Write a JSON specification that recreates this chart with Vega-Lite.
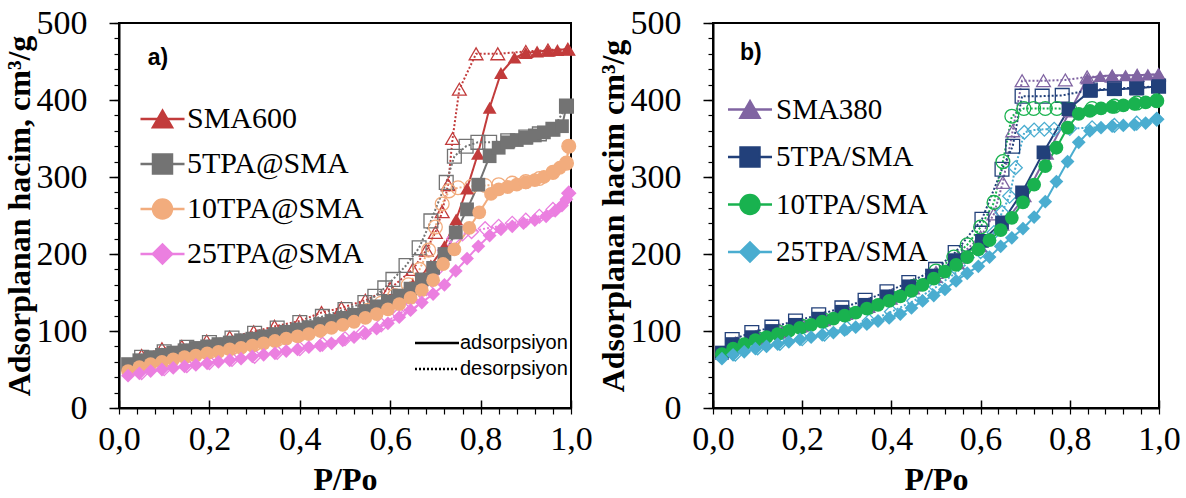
{
"$schema": "https://vega.github.io/schema/vega-lite/v6.json",
"background": "white",
"padding": {"left": 2, "top": 5, "right": 5, "bottom": 0},
"spacing": 142,
"bounds": "flush",
"datasets": {
"a": [
{"s":"SMA600","t":"a","p":0.02,"v":55},{"s":"SMA600","t":"a","p":0.05,"v":62},{"s":"SMA600","t":"a","p":0.1,"v":70},{"s":"SMA600","t":"a","p":0.15,"v":76},{"s":"SMA600","t":"a","p":0.2,"v":81},{"s":"SMA600","t":"a","p":0.25,"v":86},{"s":"SMA600","t":"a","p":0.3,"v":91},{"s":"SMA600","t":"a","p":0.35,"v":97},{"s":"SMA600","t":"a","p":0.4,"v":103},{"s":"SMA600","t":"a","p":0.45,"v":110},{"s":"SMA600","t":"a","p":0.5,"v":118},{"s":"SMA600","t":"a","p":0.55,"v":128},{"s":"SMA600","t":"a","p":0.6,"v":141},{"s":"SMA600","t":"a","p":0.65,"v":160},{"s":"SMA600","t":"a","p":0.69,"v":185},{"s":"SMA600","t":"a","p":0.72,"v":210},{"s":"SMA600","t":"a","p":0.746,"v":245},{"s":"SMA600","t":"a","p":0.77,"v":285},{"s":"SMA600","t":"a","p":0.794,"v":330},{"s":"SMA600","t":"a","p":0.82,"v":390},{"s":"SMA600","t":"a","p":0.845,"v":435},{"s":"SMA600","t":"a","p":0.875,"v":455},{"s":"SMA600","t":"a","p":0.9,"v":461},{"s":"SMA600","t":"a","p":0.925,"v":463},{"s":"SMA600","t":"a","p":0.949,"v":464},{"s":"SMA600","t":"a","p":0.97,"v":465},{"s":"SMA600","t":"a","p":0.993,"v":466},
{"s":"SMA600","t":"d","p":0.993,"v":466},{"s":"SMA600","t":"d","p":0.949,"v":465},{"s":"SMA600","t":"d","p":0.9,"v":463},{"s":"SMA600","t":"d","p":0.838,"v":460},{"s":"SMA600","t":"d","p":0.79,"v":460},{"s":"SMA600","t":"d","p":0.753,"v":414},{"s":"SMA600","t":"d","p":0.738,"v":350},{"s":"SMA600","t":"d","p":0.728,"v":290},{"s":"SMA600","t":"d","p":0.715,"v":255},{"s":"SMA600","t":"d","p":0.7,"v":228},{"s":"SMA600","t":"d","p":0.68,"v":205},{"s":"SMA600","t":"d","p":0.65,"v":180},{"s":"SMA600","t":"d","p":0.6,"v":155},{"s":"SMA600","t":"d","p":0.545,"v":140},{"s":"SMA600","t":"d","p":0.492,"v":130},{"s":"SMA600","t":"d","p":0.448,"v":124},{"s":"SMA600","t":"d","p":0.4,"v":113},{"s":"SMA600","t":"d","p":0.344,"v":106},{"s":"SMA600","t":"d","p":0.298,"v":99},{"s":"SMA600","t":"d","p":0.245,"v":92},{"s":"SMA600","t":"d","p":0.194,"v":87},{"s":"SMA600","t":"d","p":0.139,"v":80},{"s":"SMA600","t":"d","p":0.095,"v":77},{"s":"SMA600","t":"d","p":0.05,"v":68},
{"s":"5TPA@SMA","t":"a","p":0.02,"v":57},{"s":"5TPA@SMA","t":"a","p":0.045,"v":62},{"s":"5TPA@SMA","t":"a","p":0.07,"v":66},{"s":"5TPA@SMA","t":"a","p":0.095,"v":69},{"s":"5TPA@SMA","t":"a","p":0.12,"v":72},{"s":"5TPA@SMA","t":"a","p":0.145,"v":75},{"s":"5TPA@SMA","t":"a","p":0.17,"v":78},{"s":"5TPA@SMA","t":"a","p":0.195,"v":80},{"s":"5TPA@SMA","t":"a","p":0.22,"v":83},{"s":"5TPA@SMA","t":"a","p":0.245,"v":85},{"s":"5TPA@SMA","t":"a","p":0.27,"v":88},{"s":"5TPA@SMA","t":"a","p":0.295,"v":90},{"s":"5TPA@SMA","t":"a","p":0.32,"v":93},{"s":"5TPA@SMA","t":"a","p":0.345,"v":96},{"s":"5TPA@SMA","t":"a","p":0.37,"v":99},{"s":"5TPA@SMA","t":"a","p":0.395,"v":102},{"s":"5TPA@SMA","t":"a","p":0.42,"v":105},{"s":"5TPA@SMA","t":"a","p":0.445,"v":109},{"s":"5TPA@SMA","t":"a","p":0.47,"v":113},{"s":"5TPA@SMA","t":"a","p":0.495,"v":117},{"s":"5TPA@SMA","t":"a","p":0.52,"v":121},{"s":"5TPA@SMA","t":"a","p":0.545,"v":126},{"s":"5TPA@SMA","t":"a","p":0.57,"v":132},{"s":"5TPA@SMA","t":"a","p":0.595,"v":138},{"s":"5TPA@SMA","t":"a","p":0.62,"v":146},{"s":"5TPA@SMA","t":"a","p":0.645,"v":155},{"s":"5TPA@SMA","t":"a","p":0.67,"v":167},{"s":"5TPA@SMA","t":"a","p":0.695,"v":182},{"s":"5TPA@SMA","t":"a","p":0.72,"v":200},{"s":"5TPA@SMA","t":"a","p":0.745,"v":228},{"s":"5TPA@SMA","t":"a","p":0.77,"v":258},{"s":"5TPA@SMA","t":"a","p":0.795,"v":290},{"s":"5TPA@SMA","t":"a","p":0.82,"v":327},{"s":"5TPA@SMA","t":"a","p":0.84,"v":338},{"s":"5TPA@SMA","t":"a","p":0.86,"v":345},{"s":"5TPA@SMA","t":"a","p":0.88,"v":348},{"s":"5TPA@SMA","t":"a","p":0.9,"v":351},{"s":"5TPA@SMA","t":"a","p":0.92,"v":354},{"s":"5TPA@SMA","t":"a","p":0.94,"v":358},{"s":"5TPA@SMA","t":"a","p":0.96,"v":362},{"s":"5TPA@SMA","t":"a","p":0.98,"v":366},{"s":"5TPA@SMA","t":"a","p":0.99,"v":392},
{"s":"5TPA@SMA","t":"d","p":0.99,"v":392},{"s":"5TPA@SMA","t":"d","p":0.96,"v":362},{"s":"5TPA@SMA","t":"d","p":0.93,"v":356},{"s":"5TPA@SMA","t":"d","p":0.9,"v":352},{"s":"5TPA@SMA","t":"d","p":0.86,"v":347},{"s":"5TPA@SMA","t":"d","p":0.82,"v":345},{"s":"5TPA@SMA","t":"d","p":0.794,"v":345},{"s":"5TPA@SMA","t":"d","p":0.768,"v":340},{"s":"5TPA@SMA","t":"d","p":0.742,"v":327},{"s":"5TPA@SMA","t":"d","p":0.724,"v":293},{"s":"5TPA@SMA","t":"d","p":0.69,"v":243},{"s":"5TPA@SMA","t":"d","p":0.664,"v":208},{"s":"5TPA@SMA","t":"d","p":0.635,"v":185},{"s":"5TPA@SMA","t":"d","p":0.606,"v":167},{"s":"5TPA@SMA","t":"d","p":0.588,"v":156},{"s":"5TPA@SMA","t":"d","p":0.566,"v":145},{"s":"5TPA@SMA","t":"d","p":0.544,"v":137},{"s":"5TPA@SMA","t":"d","p":0.5,"v":128},{"s":"5TPA@SMA","t":"d","p":0.45,"v":119},{"s":"5TPA@SMA","t":"d","p":0.4,"v":111},{"s":"5TPA@SMA","t":"d","p":0.35,"v":104},{"s":"5TPA@SMA","t":"d","p":0.3,"v":97},{"s":"5TPA@SMA","t":"d","p":0.25,"v":91},{"s":"5TPA@SMA","t":"d","p":0.2,"v":85},{"s":"5TPA@SMA","t":"d","p":0.15,"v":79},{"s":"5TPA@SMA","t":"d","p":0.1,"v":73},{"s":"5TPA@SMA","t":"d","p":0.05,"v":66},
{"s":"10TPA@SMA","t":"a","p":0.02,"v":48},{"s":"10TPA@SMA","t":"a","p":0.045,"v":53},{"s":"10TPA@SMA","t":"a","p":0.07,"v":57},{"s":"10TPA@SMA","t":"a","p":0.095,"v":60},{"s":"10TPA@SMA","t":"a","p":0.12,"v":63},{"s":"10TPA@SMA","t":"a","p":0.145,"v":66},{"s":"10TPA@SMA","t":"a","p":0.17,"v":68},{"s":"10TPA@SMA","t":"a","p":0.195,"v":71},{"s":"10TPA@SMA","t":"a","p":0.22,"v":73},{"s":"10TPA@SMA","t":"a","p":0.245,"v":76},{"s":"10TPA@SMA","t":"a","p":0.27,"v":78},{"s":"10TPA@SMA","t":"a","p":0.295,"v":81},{"s":"10TPA@SMA","t":"a","p":0.32,"v":84},{"s":"10TPA@SMA","t":"a","p":0.345,"v":87},{"s":"10TPA@SMA","t":"a","p":0.37,"v":90},{"s":"10TPA@SMA","t":"a","p":0.395,"v":93},{"s":"10TPA@SMA","t":"a","p":0.42,"v":96},{"s":"10TPA@SMA","t":"a","p":0.445,"v":100},{"s":"10TPA@SMA","t":"a","p":0.47,"v":104},{"s":"10TPA@SMA","t":"a","p":0.495,"v":108},{"s":"10TPA@SMA","t":"a","p":0.52,"v":112},{"s":"10TPA@SMA","t":"a","p":0.545,"v":117},{"s":"10TPA@SMA","t":"a","p":0.57,"v":122},{"s":"10TPA@SMA","t":"a","p":0.595,"v":128},{"s":"10TPA@SMA","t":"a","p":0.62,"v":135},{"s":"10TPA@SMA","t":"a","p":0.645,"v":143},{"s":"10TPA@SMA","t":"a","p":0.67,"v":153},{"s":"10TPA@SMA","t":"a","p":0.695,"v":166},{"s":"10TPA@SMA","t":"a","p":0.717,"v":187},{"s":"10TPA@SMA","t":"a","p":0.742,"v":206},{"s":"10TPA@SMA","t":"a","p":0.775,"v":234},{"s":"10TPA@SMA","t":"a","p":0.797,"v":254},{"s":"10TPA@SMA","t":"a","p":0.823,"v":278},{"s":"10TPA@SMA","t":"a","p":0.84,"v":284},{"s":"10TPA@SMA","t":"a","p":0.86,"v":287},{"s":"10TPA@SMA","t":"a","p":0.88,"v":290},{"s":"10TPA@SMA","t":"a","p":0.9,"v":293},{"s":"10TPA@SMA","t":"a","p":0.92,"v":296},{"s":"10TPA@SMA","t":"a","p":0.94,"v":300},{"s":"10TPA@SMA","t":"a","p":0.96,"v":306},{"s":"10TPA@SMA","t":"a","p":0.975,"v":312},{"s":"10TPA@SMA","t":"a","p":0.99,"v":318},{"s":"10TPA@SMA","t":"a","p":0.995,"v":340},
{"s":"10TPA@SMA","t":"d","p":0.995,"v":340},{"s":"10TPA@SMA","t":"d","p":0.99,"v":318},{"s":"10TPA@SMA","t":"d","p":0.96,"v":306},{"s":"10TPA@SMA","t":"d","p":0.93,"v":298},{"s":"10TPA@SMA","t":"d","p":0.9,"v":294},{"s":"10TPA@SMA","t":"d","p":0.87,"v":292},{"s":"10TPA@SMA","t":"d","p":0.84,"v":290},{"s":"10TPA@SMA","t":"d","p":0.81,"v":289},{"s":"10TPA@SMA","t":"d","p":0.78,"v":288},{"s":"10TPA@SMA","t":"d","p":0.75,"v":286},{"s":"10TPA@SMA","t":"d","p":0.73,"v":282},{"s":"10TPA@SMA","t":"d","p":0.715,"v":265},{"s":"10TPA@SMA","t":"d","p":0.7,"v":235},{"s":"10TPA@SMA","t":"d","p":0.685,"v":205},{"s":"10TPA@SMA","t":"d","p":0.665,"v":180},{"s":"10TPA@SMA","t":"d","p":0.64,"v":160},{"s":"10TPA@SMA","t":"d","p":0.61,"v":146},{"s":"10TPA@SMA","t":"d","p":0.58,"v":136},{"s":"10TPA@SMA","t":"d","p":0.55,"v":127},{"s":"10TPA@SMA","t":"d","p":0.5,"v":113},{"s":"10TPA@SMA","t":"d","p":0.45,"v":104},{"s":"10TPA@SMA","t":"d","p":0.4,"v":96},{"s":"10TPA@SMA","t":"d","p":0.35,"v":89},{"s":"10TPA@SMA","t":"d","p":0.3,"v":83},{"s":"10TPA@SMA","t":"d","p":0.25,"v":78},{"s":"10TPA@SMA","t":"d","p":0.2,"v":73},{"s":"10TPA@SMA","t":"d","p":0.15,"v":68},{"s":"10TPA@SMA","t":"d","p":0.1,"v":62},{"s":"10TPA@SMA","t":"d","p":0.05,"v":55},
{"s":"25TPA@SMA","t":"a","p":0.02,"v":42},{"s":"25TPA@SMA","t":"a","p":0.045,"v":45},{"s":"25TPA@SMA","t":"a","p":0.07,"v":48},{"s":"25TPA@SMA","t":"a","p":0.095,"v":50},{"s":"25TPA@SMA","t":"a","p":0.12,"v":52},{"s":"25TPA@SMA","t":"a","p":0.145,"v":54},{"s":"25TPA@SMA","t":"a","p":0.17,"v":56},{"s":"25TPA@SMA","t":"a","p":0.195,"v":58},{"s":"25TPA@SMA","t":"a","p":0.22,"v":60},{"s":"25TPA@SMA","t":"a","p":0.245,"v":62},{"s":"25TPA@SMA","t":"a","p":0.27,"v":64},{"s":"25TPA@SMA","t":"a","p":0.295,"v":67},{"s":"25TPA@SMA","t":"a","p":0.32,"v":69},{"s":"25TPA@SMA","t":"a","p":0.345,"v":71},{"s":"25TPA@SMA","t":"a","p":0.37,"v":74},{"s":"25TPA@SMA","t":"a","p":0.395,"v":76},{"s":"25TPA@SMA","t":"a","p":0.42,"v":79},{"s":"25TPA@SMA","t":"a","p":0.445,"v":81},{"s":"25TPA@SMA","t":"a","p":0.47,"v":84},{"s":"25TPA@SMA","t":"a","p":0.495,"v":88},{"s":"25TPA@SMA","t":"a","p":0.52,"v":92},{"s":"25TPA@SMA","t":"a","p":0.545,"v":97},{"s":"25TPA@SMA","t":"a","p":0.57,"v":103},{"s":"25TPA@SMA","t":"a","p":0.595,"v":110},{"s":"25TPA@SMA","t":"a","p":0.62,"v":118},{"s":"25TPA@SMA","t":"a","p":0.645,"v":127},{"s":"25TPA@SMA","t":"a","p":0.67,"v":137},{"s":"25TPA@SMA","t":"a","p":0.695,"v":148},{"s":"25TPA@SMA","t":"a","p":0.72,"v":160},{"s":"25TPA@SMA","t":"a","p":0.745,"v":178},{"s":"25TPA@SMA","t":"a","p":0.77,"v":194},{"s":"25TPA@SMA","t":"a","p":0.795,"v":210},{"s":"25TPA@SMA","t":"a","p":0.82,"v":224},{"s":"25TPA@SMA","t":"a","p":0.845,"v":232},{"s":"25TPA@SMA","t":"a","p":0.87,"v":236},{"s":"25TPA@SMA","t":"a","p":0.895,"v":240},{"s":"25TPA@SMA","t":"a","p":0.92,"v":244},{"s":"25TPA@SMA","t":"a","p":0.945,"v":249},{"s":"25TPA@SMA","t":"a","p":0.965,"v":256},{"s":"25TPA@SMA","t":"a","p":0.98,"v":263},{"s":"25TPA@SMA","t":"a","p":0.99,"v":271},{"s":"25TPA@SMA","t":"a","p":0.995,"v":279},
{"s":"25TPA@SMA","t":"d","p":0.995,"v":279},{"s":"25TPA@SMA","t":"d","p":0.96,"v":258},{"s":"25TPA@SMA","t":"d","p":0.93,"v":249},{"s":"25TPA@SMA","t":"d","p":0.9,"v":244},{"s":"25TPA@SMA","t":"d","p":0.87,"v":240},{"s":"25TPA@SMA","t":"d","p":0.84,"v":236},{"s":"25TPA@SMA","t":"d","p":0.81,"v":233},{"s":"25TPA@SMA","t":"d","p":0.78,"v":229},{"s":"25TPA@SMA","t":"d","p":0.76,"v":226},{"s":"25TPA@SMA","t":"d","p":0.74,"v":220},{"s":"25TPA@SMA","t":"d","p":0.72,"v":205},{"s":"25TPA@SMA","t":"d","p":0.7,"v":178},{"s":"25TPA@SMA","t":"d","p":0.68,"v":155},{"s":"25TPA@SMA","t":"d","p":0.65,"v":135},{"s":"25TPA@SMA","t":"d","p":0.62,"v":122},{"s":"25TPA@SMA","t":"d","p":0.58,"v":108},{"s":"25TPA@SMA","t":"d","p":0.54,"v":98},{"s":"25TPA@SMA","t":"d","p":0.5,"v":90},{"s":"25TPA@SMA","t":"d","p":0.45,"v":83},{"s":"25TPA@SMA","t":"d","p":0.4,"v":77},{"s":"25TPA@SMA","t":"d","p":0.35,"v":72},{"s":"25TPA@SMA","t":"d","p":0.3,"v":67},{"s":"25TPA@SMA","t":"d","p":0.25,"v":63},{"s":"25TPA@SMA","t":"d","p":0.2,"v":59},{"s":"25TPA@SMA","t":"d","p":0.15,"v":55},{"s":"25TPA@SMA","t":"d","p":0.1,"v":51},{"s":"25TPA@SMA","t":"d","p":0.05,"v":46}
],
"b": [
{"s":"SMA380","t":"a","p":0.02,"v":70},{"s":"SMA380","t":"a","p":0.05,"v":80},{"s":"SMA380","t":"a","p":0.1,"v":90},{"s":"SMA380","t":"a","p":0.15,"v":98},{"s":"SMA380","t":"a","p":0.2,"v":106},{"s":"SMA380","t":"a","p":0.25,"v":114},{"s":"SMA380","t":"a","p":0.3,"v":122},{"s":"SMA380","t":"a","p":0.35,"v":131},{"s":"SMA380","t":"a","p":0.4,"v":142},{"s":"SMA380","t":"a","p":0.45,"v":155},{"s":"SMA380","t":"a","p":0.5,"v":170},{"s":"SMA380","t":"a","p":0.55,"v":188},{"s":"SMA380","t":"a","p":0.6,"v":210},{"s":"SMA380","t":"a","p":0.65,"v":238},{"s":"SMA380","t":"a","p":0.7,"v":275},{"s":"SMA380","t":"a","p":0.75,"v":330},{"s":"SMA380","t":"a","p":0.8,"v":385},{"s":"SMA380","t":"a","p":0.839,"v":428},{"s":"SMA380","t":"a","p":0.868,"v":431},{"s":"SMA380","t":"a","p":0.895,"v":432},{"s":"SMA380","t":"a","p":0.925,"v":432},{"s":"SMA380","t":"a","p":0.951,"v":432},{"s":"SMA380","t":"a","p":0.975,"v":433},{"s":"SMA380","t":"a","p":0.999,"v":433},
{"s":"SMA380","t":"d","p":0.999,"v":433},{"s":"SMA380","t":"d","p":0.951,"v":432},{"s":"SMA380","t":"d","p":0.895,"v":431},{"s":"SMA380","t":"d","p":0.839,"v":430},{"s":"SMA380","t":"d","p":0.79,"v":426},{"s":"SMA380","t":"d","p":0.741,"v":425},{"s":"SMA380","t":"d","p":0.693,"v":425},{"s":"SMA380","t":"d","p":0.672,"v":360},{"s":"SMA380","t":"d","p":0.65,"v":293},{"s":"SMA380","t":"d","p":0.63,"v":252},{"s":"SMA380","t":"d","p":0.6,"v":222},{"s":"SMA380","t":"d","p":0.55,"v":196},{"s":"SMA380","t":"d","p":0.5,"v":176},{"s":"SMA380","t":"d","p":0.45,"v":160},{"s":"SMA380","t":"d","p":0.4,"v":146},{"s":"SMA380","t":"d","p":0.35,"v":135},{"s":"SMA380","t":"d","p":0.3,"v":125},{"s":"SMA380","t":"d","p":0.25,"v":117},{"s":"SMA380","t":"d","p":0.2,"v":109},{"s":"SMA380","t":"d","p":0.15,"v":101},{"s":"SMA380","t":"d","p":0.1,"v":93},{"s":"SMA380","t":"d","p":0.05,"v":84},
{"s":"5TPA/SMA","t":"a","p":0.02,"v":72},{"s":"5TPA/SMA","t":"a","p":0.043,"v":83},{"s":"5TPA/SMA","t":"a","p":0.087,"v":92},{"s":"5TPA/SMA","t":"a","p":0.132,"v":100},{"s":"5TPA/SMA","t":"a","p":0.185,"v":108},{"s":"5TPA/SMA","t":"a","p":0.237,"v":116},{"s":"5TPA/SMA","t":"a","p":0.289,"v":125},{"s":"5TPA/SMA","t":"a","p":0.341,"v":134},{"s":"5TPA/SMA","t":"a","p":0.39,"v":145},{"s":"5TPA/SMA","t":"a","p":0.439,"v":158},{"s":"5TPA/SMA","t":"a","p":0.491,"v":172},{"s":"5TPA/SMA","t":"a","p":0.543,"v":192},{"s":"5TPA/SMA","t":"a","p":0.603,"v":217},{"s":"5TPA/SMA","t":"a","p":0.648,"v":241},{"s":"5TPA/SMA","t":"a","p":0.693,"v":280},{"s":"5TPA/SMA","t":"a","p":0.741,"v":332},{"s":"5TPA/SMA","t":"a","p":0.797,"v":388},{"s":"5TPA/SMA","t":"a","p":0.846,"v":412},{"s":"5TPA/SMA","t":"a","p":0.9,"v":414},{"s":"5TPA/SMA","t":"a","p":0.95,"v":415},{"s":"5TPA/SMA","t":"a","p":0.999,"v":418},
{"s":"5TPA/SMA","t":"d","p":0.999,"v":418},{"s":"5TPA/SMA","t":"d","p":0.95,"v":416},{"s":"5TPA/SMA","t":"d","p":0.9,"v":415},{"s":"5TPA/SMA","t":"d","p":0.846,"v":413},{"s":"5TPA/SMA","t":"d","p":0.783,"v":406},{"s":"5TPA/SMA","t":"d","p":0.738,"v":405},{"s":"5TPA/SMA","t":"d","p":0.693,"v":405},{"s":"5TPA/SMA","t":"d","p":0.672,"v":340},{"s":"5TPA/SMA","t":"d","p":0.648,"v":310},{"s":"5TPA/SMA","t":"d","p":0.603,"v":245},{"s":"5TPA/SMA","t":"d","p":0.543,"v":202},{"s":"5TPA/SMA","t":"d","p":0.499,"v":180},{"s":"5TPA/SMA","t":"d","p":0.439,"v":163},{"s":"5TPA/SMA","t":"d","p":0.39,"v":151},{"s":"5TPA/SMA","t":"d","p":0.341,"v":140},{"s":"5TPA/SMA","t":"d","p":0.289,"v":130},{"s":"5TPA/SMA","t":"d","p":0.237,"v":121},{"s":"5TPA/SMA","t":"d","p":0.185,"v":113},{"s":"5TPA/SMA","t":"d","p":0.132,"v":105},{"s":"5TPA/SMA","t":"d","p":0.087,"v":98},{"s":"5TPA/SMA","t":"d","p":0.043,"v":89},
{"s":"10TPA/SMA","t":"a","p":0.02,"v":70},{"s":"10TPA/SMA","t":"a","p":0.045,"v":77},{"s":"10TPA/SMA","t":"a","p":0.07,"v":83},{"s":"10TPA/SMA","t":"a","p":0.095,"v":88},{"s":"10TPA/SMA","t":"a","p":0.12,"v":92},{"s":"10TPA/SMA","t":"a","p":0.145,"v":96},{"s":"10TPA/SMA","t":"a","p":0.17,"v":100},{"s":"10TPA/SMA","t":"a","p":0.195,"v":104},{"s":"10TPA/SMA","t":"a","p":0.22,"v":108},{"s":"10TPA/SMA","t":"a","p":0.245,"v":112},{"s":"10TPA/SMA","t":"a","p":0.27,"v":116},{"s":"10TPA/SMA","t":"a","p":0.295,"v":120},{"s":"10TPA/SMA","t":"a","p":0.32,"v":124},{"s":"10TPA/SMA","t":"a","p":0.345,"v":129},{"s":"10TPA/SMA","t":"a","p":0.37,"v":134},{"s":"10TPA/SMA","t":"a","p":0.395,"v":139},{"s":"10TPA/SMA","t":"a","p":0.42,"v":145},{"s":"10TPA/SMA","t":"a","p":0.445,"v":152},{"s":"10TPA/SMA","t":"a","p":0.47,"v":160},{"s":"10TPA/SMA","t":"a","p":0.495,"v":168},{"s":"10TPA/SMA","t":"a","p":0.52,"v":177},{"s":"10TPA/SMA","t":"a","p":0.545,"v":186},{"s":"10TPA/SMA","t":"a","p":0.57,"v":196},{"s":"10TPA/SMA","t":"a","p":0.595,"v":206},{"s":"10TPA/SMA","t":"a","p":0.62,"v":218},{"s":"10TPA/SMA","t":"a","p":0.645,"v":231},{"s":"10TPA/SMA","t":"a","p":0.67,"v":247},{"s":"10TPA/SMA","t":"a","p":0.695,"v":267},{"s":"10TPA/SMA","t":"a","p":0.72,"v":290},{"s":"10TPA/SMA","t":"a","p":0.745,"v":314},{"s":"10TPA/SMA","t":"a","p":0.77,"v":338},{"s":"10TPA/SMA","t":"a","p":0.795,"v":364},{"s":"10TPA/SMA","t":"a","p":0.82,"v":382},{"s":"10TPA/SMA","t":"a","p":0.845,"v":386},{"s":"10TPA/SMA","t":"a","p":0.87,"v":389},{"s":"10TPA/SMA","t":"a","p":0.895,"v":391},{"s":"10TPA/SMA","t":"a","p":0.92,"v":393},{"s":"10TPA/SMA","t":"a","p":0.945,"v":395},{"s":"10TPA/SMA","t":"a","p":0.97,"v":397},{"s":"10TPA/SMA","t":"a","p":0.995,"v":399},
{"s":"10TPA/SMA","t":"d","p":0.995,"v":399},{"s":"10TPA/SMA","t":"d","p":0.95,"v":396},{"s":"10TPA/SMA","t":"d","p":0.9,"v":392},{"s":"10TPA/SMA","t":"d","p":0.85,"v":389},{"s":"10TPA/SMA","t":"d","p":0.8,"v":388},{"s":"10TPA/SMA","t":"d","p":0.771,"v":389},{"s":"10TPA/SMA","t":"d","p":0.745,"v":389},{"s":"10TPA/SMA","t":"d","p":0.719,"v":389},{"s":"10TPA/SMA","t":"d","p":0.697,"v":389},{"s":"10TPA/SMA","t":"d","p":0.67,"v":379},{"s":"10TPA/SMA","t":"d","p":0.65,"v":320},{"s":"10TPA/SMA","t":"d","p":0.63,"v":267},{"s":"10TPA/SMA","t":"d","p":0.6,"v":235},{"s":"10TPA/SMA","t":"d","p":0.57,"v":212},{"s":"10TPA/SMA","t":"d","p":0.54,"v":196},{"s":"10TPA/SMA","t":"d","p":0.5,"v":178},{"s":"10TPA/SMA","t":"d","p":0.45,"v":158},{"s":"10TPA/SMA","t":"d","p":0.4,"v":143},{"s":"10TPA/SMA","t":"d","p":0.35,"v":131},{"s":"10TPA/SMA","t":"d","p":0.3,"v":122},{"s":"10TPA/SMA","t":"d","p":0.25,"v":114},{"s":"10TPA/SMA","t":"d","p":0.2,"v":106},{"s":"10TPA/SMA","t":"d","p":0.15,"v":98},{"s":"10TPA/SMA","t":"d","p":0.1,"v":90},{"s":"10TPA/SMA","t":"d","p":0.05,"v":80},
{"s":"25TPA/SMA","t":"a","p":0.02,"v":64},{"s":"25TPA/SMA","t":"a","p":0.045,"v":69},{"s":"25TPA/SMA","t":"a","p":0.07,"v":73},{"s":"25TPA/SMA","t":"a","p":0.095,"v":77},{"s":"25TPA/SMA","t":"a","p":0.12,"v":80},{"s":"25TPA/SMA","t":"a","p":0.145,"v":83},{"s":"25TPA/SMA","t":"a","p":0.17,"v":86},{"s":"25TPA/SMA","t":"a","p":0.195,"v":89},{"s":"25TPA/SMA","t":"a","p":0.22,"v":92},{"s":"25TPA/SMA","t":"a","p":0.245,"v":95},{"s":"25TPA/SMA","t":"a","p":0.27,"v":98},{"s":"25TPA/SMA","t":"a","p":0.295,"v":101},{"s":"25TPA/SMA","t":"a","p":0.32,"v":105},{"s":"25TPA/SMA","t":"a","p":0.345,"v":109},{"s":"25TPA/SMA","t":"a","p":0.37,"v":113},{"s":"25TPA/SMA","t":"a","p":0.395,"v":117},{"s":"25TPA/SMA","t":"a","p":0.42,"v":122},{"s":"25TPA/SMA","t":"a","p":0.445,"v":130},{"s":"25TPA/SMA","t":"a","p":0.47,"v":139},{"s":"25TPA/SMA","t":"a","p":0.495,"v":146},{"s":"25TPA/SMA","t":"a","p":0.52,"v":154},{"s":"25TPA/SMA","t":"a","p":0.545,"v":165},{"s":"25TPA/SMA","t":"a","p":0.57,"v":175},{"s":"25TPA/SMA","t":"a","p":0.595,"v":184},{"s":"25TPA/SMA","t":"a","p":0.62,"v":196},{"s":"25TPA/SMA","t":"a","p":0.645,"v":210},{"s":"25TPA/SMA","t":"a","p":0.67,"v":221},{"s":"25TPA/SMA","t":"a","p":0.695,"v":233},{"s":"25TPA/SMA","t":"a","p":0.72,"v":248},{"s":"25TPA/SMA","t":"a","p":0.745,"v":268},{"s":"25TPA/SMA","t":"a","p":0.77,"v":294},{"s":"25TPA/SMA","t":"a","p":0.795,"v":320},{"s":"25TPA/SMA","t":"a","p":0.82,"v":345},{"s":"25TPA/SMA","t":"a","p":0.845,"v":360},{"s":"25TPA/SMA","t":"a","p":0.87,"v":364},{"s":"25TPA/SMA","t":"a","p":0.895,"v":366},{"s":"25TPA/SMA","t":"a","p":0.92,"v":367},{"s":"25TPA/SMA","t":"a","p":0.945,"v":368},{"s":"25TPA/SMA","t":"a","p":0.97,"v":370},{"s":"25TPA/SMA","t":"a","p":0.995,"v":375},
{"s":"25TPA/SMA","t":"d","p":0.995,"v":375},{"s":"25TPA/SMA","t":"d","p":0.95,"v":370},{"s":"25TPA/SMA","t":"d","p":0.9,"v":367},{"s":"25TPA/SMA","t":"d","p":0.85,"v":364},{"s":"25TPA/SMA","t":"d","p":0.8,"v":363},{"s":"25TPA/SMA","t":"d","p":0.765,"v":362},{"s":"25TPA/SMA","t":"d","p":0.743,"v":362},{"s":"25TPA/SMA","t":"d","p":0.72,"v":361},{"s":"25TPA/SMA","t":"d","p":0.698,"v":358},{"s":"25TPA/SMA","t":"d","p":0.678,"v":312},{"s":"25TPA/SMA","t":"d","p":0.665,"v":275},{"s":"25TPA/SMA","t":"d","p":0.648,"v":254},{"s":"25TPA/SMA","t":"d","p":0.63,"v":228},{"s":"25TPA/SMA","t":"d","p":0.6,"v":203},{"s":"25TPA/SMA","t":"d","p":0.55,"v":178},{"s":"25TPA/SMA","t":"d","p":0.5,"v":157},{"s":"25TPA/SMA","t":"d","p":0.45,"v":139},{"s":"25TPA/SMA","t":"d","p":0.4,"v":125},{"s":"25TPA/SMA","t":"d","p":0.35,"v":113},{"s":"25TPA/SMA","t":"d","p":0.3,"v":104},{"s":"25TPA/SMA","t":"d","p":0.25,"v":96},{"s":"25TPA/SMA","t":"d","p":0.2,"v":90},{"s":"25TPA/SMA","t":"d","p":0.15,"v":84},{"s":"25TPA/SMA","t":"d","p":0.1,"v":78},{"s":"25TPA/SMA","t":"d","p":0.05,"v":70}
]
},
"hconcat": [
{
"width": 452, "height": 385,
"data": {"name": "a"},
"resolve": {"axis": {"x": "independent", "y": "independent"}},
"layer": [
{
"mark": {"type": "line", "strokeWidth": 2},
"encoding": {
"x": {"field": "p", "type": "quantitative", "scale": {"domain": [0, 1], "nice": false, "zero": false}, "axis": {"orient": "bottom", "values": [0, 0.2, 0.4, 0.6, 0.8, 1], "labelExpr": "replace(format(datum.value, '.1f'), '.', ',')", "tickSize": -8, "labelPadding": 22, "labelFontSize": 34, "labelFlush": false, "labelOverlap": false, "title": "P/Po", "titlePadding": 8}},
"y": {"field": "v", "type": "quantitative", "scale": {"domain": [0, 500], "nice": false}, "axis": {"orient": "left", "values": [0, 100, 200, 300, 400, 500], "tickSize": 10, "labelPadding": 22, "labelFontSize": 34, "labelFlush": false, "labelOverlap": false, "title": "Adsorplanan hacim, cm³/g", "titlePadding": 0}},
"stroke": {"field": "s", "type": "nominal", "scale": {"domain": ["SMA600", "5TPA@SMA", "10TPA@SMA", "25TPA@SMA", "zz"], "range": ["#c23b3b", "#737373", "#f2ac7d", "#eb7fe0", "#ffffff"]},
 "legend": {"orient": "none", "legendX": 28.5, "legendY": 81, "title": null, "padding": 0, "values": ["SMA600", "5TPA@SMA", "10TPA@SMA", "25TPA@SMA"], "labelFont": "Liberation Serif", "labelFontSize": 30, "labelOpacity": 0, "labelOffset": 9.5, "labelLimit": 400, "symbolType": "M-2.32,0H2.32", "symbolSize": 360, "symbolStrokeWidth": 2.5, "rowPadding": 15}},
"strokeDash": {"field": "t", "type": "nominal", "scale": {"domain": ["a", "d"], "range": [[1, 0], [2, 2]]},
 "legend": {"orient": "none", "legendX": 308, "legendY": 310, "title": null, "padding": 0, "labelExpr": "datum.value=='a'?'adsorpsiyon':'desorpsiyon'", "labelFont": "Liberation Sans", "labelFontSize": 20, "labelColor": "black", "labelOffset": 13, "symbolType": "M-4.4,0H4.4", "symbolSize": 100, "symbolStrokeColor": "black", "symbolStrokeWidth": 2.5, "rowPadding": 6}}
}
},
{
"transform": [{"filter": "datum.t==='d'"}],
"mark": {"type": "point", "filled": false, "strokeWidth": 1.3, "size": 190, "opacity": 1},
"encoding": {
"x": {"field": "p", "type": "quantitative", "axis": {"orient": "bottom", "values": [0,0.04,0.08,0.12,0.16,0.2,0.24,0.28,0.32,0.36,0.4,0.44,0.48,0.52,0.56,0.6,0.64,0.68,0.72,0.76,0.8,0.84,0.88,0.92,0.96,1], "labels": false, "domain": false, "tickSize": 6, "tickWidth": 1.2, "title": null}},
"y": {"field": "v", "type": "quantitative", "axis": {"orient": "left", "values": [0,20,40,60,80,100,120,140,160,180,200,220,240,260,280,300,320,340,360,380,400,420,440,460,480,500], "labels": false, "domain": false, "tickSize": 5, "tickWidth": 1.2, "title": null}},
"color": {"field": "s", "type": "nominal", "scale": {"domain": ["SMA600", "5TPA@SMA", "10TPA@SMA", "25TPA@SMA"], "range": ["#c23b3b", "#737373", "#f2ac7d", "#eb7fe0"]},
 "legend": {"orient": "none", "legendX": 28.5, "legendY": 81, "title": null, "padding": 0, "labelFont": "Liberation Serif", "labelFontSize": 30, "labelColor": "black", "labelOffset": 9.5, "labelLimit": 400, "symbolSize": 360, "symbolStrokeWidth": 2.5, "symbolOpacity": 1, "rowPadding": 15}},
"shape": {"field": "s", "type": "nominal", "scale": {"domain": ["SMA600", "5TPA@SMA", "10TPA@SMA", "25TPA@SMA"], "range": ["triangle-up", "square", "circle", "diamond"]}, "legend": null}
}
},
{
"transform": [{"filter": "datum.t==='a'"}],
"mark": {"type": "point", "filled": true, "size": 190, "opacity": 1},
"encoding": {
"x": {"field": "p", "type": "quantitative", "axis": null},
"y": {"field": "v", "type": "quantitative", "axis": null},
"color": {"field": "s", "type": "nominal", "scale": {"domain": ["SMA600", "5TPA@SMA", "10TPA@SMA", "25TPA@SMA"], "range": ["#c23b3b", "#737373", "#f2ac7d", "#eb7fe0"]},
 "legend": {"orient": "none", "legendX": 28.5, "legendY": 81, "title": null, "padding": 0, "labelFont": "Liberation Serif", "labelFontSize": 30, "labelColor": "black", "labelOffset": 9.5, "labelLimit": 400, "symbolSize": 360, "symbolStrokeWidth": 2.5, "symbolOpacity": 1, "rowPadding": 15}},
"shape": {"field": "s", "type": "nominal", "scale": {"domain": ["SMA600", "5TPA@SMA", "10TPA@SMA", "25TPA@SMA"], "range": ["triangle-up", "square", "circle", "diamond"]}, "legend": null}
}
},
{
"data": {"values": [{"lbl": "a)"}]},
"mark": {"type": "text", "font": "Liberation Sans", "fontWeight": "bold", "fontSize": 23, "color": "black", "align": "center", "baseline": "middle"},
"encoding": {
"x": {"datum": 0.086, "type": "quantitative", "axis": null},
"y": {"datum": 455, "type": "quantitative", "axis": null},
"text": {"field": "lbl"}
}
}
]
},
{
"width": 446, "height": 385,
"data": {"name": "b"},
"resolve": {"axis": {"x": "independent", "y": "independent"}},
"layer": [
{
"mark": {"type": "line", "strokeWidth": 2},
"encoding": {
"x": {"field": "p", "type": "quantitative", "scale": {"domain": [0, 1], "nice": false, "zero": false}, "axis": {"orient": "bottom", "values": [0, 0.2, 0.4, 0.6, 0.8, 1], "labelExpr": "replace(format(datum.value, '.1f'), '.', ',')", "tickSize": -8, "labelPadding": 22, "labelFontSize": 34, "labelFlush": false, "labelOverlap": false, "title": "P/Po", "titlePadding": 8}},
"y": {"field": "v", "type": "quantitative", "scale": {"domain": [0, 500], "nice": false}, "axis": {"orient": "left", "values": [0, 100, 200, 300, 400, 500], "tickSize": 10, "labelPadding": 22, "labelFontSize": 34, "labelFlush": false, "labelOverlap": false, "title": "Adsorplanan hacim cm³/g", "titlePadding": 0}},
"stroke": {"field": "s", "type": "nominal", "scale": {"domain": ["SMA380", "5TPA/SMA", "10TPA/SMA", "25TPA/SMA", "zz"], "range": ["#8064a2", "#22407a", "#19b24f", "#4aadd0", "#ffffff"]},
 "legend": {"orient": "none", "legendX": 22.5, "legendY": 72, "title": null, "padding": 0, "values": ["SMA380", "5TPA/SMA", "10TPA/SMA", "25TPA/SMA"], "labelFont": "Liberation Serif", "labelFontSize": 29, "labelOpacity": 0, "labelOffset": 11.5, "labelLimit": 400, "symbolType": "M-2.32,0H2.32", "symbolSize": 360, "symbolStrokeWidth": 2.5, "rowPadding": 17.5}},
"strokeDash": {"field": "t", "type": "nominal", "scale": {"domain": ["a", "d"], "range": [[1, 0], [2, 2]]}, "legend": null}
}
},
{
"transform": [{"filter": "datum.t==='d'"}],
"mark": {"type": "point", "filled": false, "strokeWidth": 1.3, "size": 190, "opacity": 1},
"encoding": {
"x": {"field": "p", "type": "quantitative", "axis": {"orient": "bottom", "values": [0,0.04,0.08,0.12,0.16,0.2,0.24,0.28,0.32,0.36,0.4,0.44,0.48,0.52,0.56,0.6,0.64,0.68,0.72,0.76,0.8,0.84,0.88,0.92,0.96,1], "labels": false, "domain": false, "tickSize": 6, "tickWidth": 1.2, "title": null}},
"y": {"field": "v", "type": "quantitative", "axis": {"orient": "left", "values": [0,20,40,60,80,100,120,140,160,180,200,220,240,260,280,300,320,340,360,380,400,420,440,460,480,500], "labels": false, "domain": false, "tickSize": 5, "tickWidth": 1.2, "title": null}},
"color": {"field": "s", "type": "nominal", "scale": {"domain": ["SMA380", "5TPA/SMA", "10TPA/SMA", "25TPA/SMA"], "range": ["#8064a2", "#22407a", "#19b24f", "#4aadd0"]},
 "legend": {"orient": "none", "legendX": 22.5, "legendY": 72, "title": null, "padding": 0, "labelFont": "Liberation Serif", "labelFontSize": 29, "labelColor": "black", "labelOffset": 11.5, "labelLimit": 400, "symbolSize": 360, "symbolStrokeWidth": 2.5, "symbolOpacity": 1, "rowPadding": 17.5}},
"shape": {"field": "s", "type": "nominal", "scale": {"domain": ["SMA380", "5TPA/SMA", "10TPA/SMA", "25TPA/SMA"], "range": ["triangle-up", "square", "circle", "diamond"]}, "legend": null}
}
},
{
"transform": [{"filter": "datum.t==='a'"}],
"mark": {"type": "point", "filled": true, "size": 190, "opacity": 1},
"encoding": {
"x": {"field": "p", "type": "quantitative", "axis": null},
"y": {"field": "v", "type": "quantitative", "axis": null},
"color": {"field": "s", "type": "nominal", "scale": {"domain": ["SMA380", "5TPA/SMA", "10TPA/SMA", "25TPA/SMA"], "range": ["#8064a2", "#22407a", "#19b24f", "#4aadd0"]},
 "legend": {"orient": "none", "legendX": 22.5, "legendY": 72, "title": null, "padding": 0, "labelFont": "Liberation Serif", "labelFontSize": 29, "labelColor": "black", "labelOffset": 11.5, "labelLimit": 400, "symbolSize": 360, "symbolStrokeWidth": 2.5, "symbolOpacity": 1, "rowPadding": 17.5}},
"shape": {"field": "s", "type": "nominal", "scale": {"domain": ["SMA380", "5TPA/SMA", "10TPA/SMA", "25TPA/SMA"], "range": ["triangle-up", "square", "circle", "diamond"]}, "legend": null}
}
},
{
"data": {"values": [{"lbl": "b)"}]},
"mark": {"type": "text", "font": "Liberation Sans", "fontWeight": "bold", "fontSize": 23, "color": "black", "align": "center", "baseline": "middle"},
"encoding": {
"x": {"datum": 0.085, "type": "quantitative", "axis": null},
"y": {"datum": 461, "type": "quantitative", "axis": null},
"text": {"field": "lbl"}
}
}
]
}
],
"resolve": {"scale": {"color": "independent", "stroke": "independent", "shape": "independent", "strokeDash": "independent"}, "legend": {"color": "independent", "stroke": "independent", "strokeDash": "independent"}},
"config": {
"view": {"stroke": "black", "strokeWidth": 2},
"axis": {"grid": false, "domainColor": "black", "domainWidth": 2, "tickColor": "black", "tickWidth": 1.5, "labelColor": "black", "labelFont": "Liberation Serif", "labelFontSize": 30, "titleFont": "Liberation Serif", "titleFontSize": 32, "titleFontWeight": "bold", "titleColor": "black"}
}
}
